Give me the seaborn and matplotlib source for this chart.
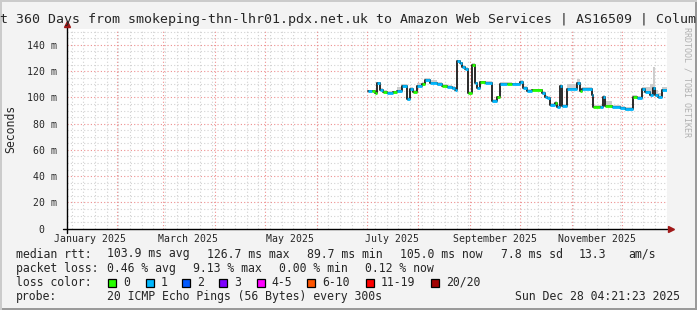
import matplotlib
matplotlib.use("Agg")
import matplotlib.pyplot as plt
import matplotlib.dates as mdates
from matplotlib.patches import Rectangle
import seaborn as sns
import pandas as pd
import numpy as np

# ---------------- data ----------------
change_dates = ["2025-07-02", "2025-07-04", "2025-07-06", "2025-07-07", "2025-07-09",
                "2025-07-11", "2025-07-13", "2025-07-17", "2025-07-19", "2025-07-22",
                "2025-07-25", "2025-07-27", "2025-07-29", "2025-07-31", "2025-08-03",
                "2025-08-05", "2025-08-08", "2025-08-12", "2025-08-15", "2025-08-18",
                "2025-08-21", "2025-08-23", "2025-08-24", "2025-08-26", "2025-08-27",
                "2025-08-29", "2025-08-31", "2025-09-02", "2025-09-04", "2025-09-05",
                "2025-09-07", "2025-09-10", "2025-09-14", "2025-09-17", "2025-09-19",
                "2025-09-23", "2025-09-26", "2025-10-01", "2025-10-03", "2025-10-05",
                "2025-10-08", "2025-10-14", "2025-10-16", "2025-10-17", "2025-10-19",
                "2025-10-22", "2025-10-23", "2025-10-25", "2025-10-26", "2025-10-29",
                "2025-11-04", "2025-11-06", "2025-11-07", "2025-11-13", "2025-11-14",
                "2025-11-18", "2025-11-20", "2025-11-21", "2025-11-25", "2025-11-30",
                "2025-12-03", "2025-12-08", "2025-12-10", "2025-12-13", "2025-12-15",
                "2025-12-18", "2025-12-20", "2025-12-21", "2025-12-23", "2025-12-25"]
median_ms = [104.5, 105.0, 103.5, 111.0, 105.5,
             104.0, 103.5, 103.8, 104.5, 108.5,
             98.5, 106.5, 104.0, 109.0, 110.0,
             113.0, 111.0, 110.0, 109.0, 108.0,
             107.0, 105.5, 127.5, 126.0, 123.5,
             121.5, 103.3, 125.0, 111.0, 107.0,
             111.5, 111.0, 97.0, 100.0, 110.0,
             110.5, 110.0, 112.0, 107.5, 105.0,
             105.5, 103.0, 100.5, 99.5, 94.0,
             96.0, 93.0, 108.5, 93.5, 106.5,
             111.0, 105.0, 106.5, 102.0, 93.0,
             92.5, 100.5, 93.5, 93.0, 92.0,
             91.0, 100.5, 99.5, 106.5, 104.0,
             102.0, 107.0, 101.5, 100.0, 105.5]
loss_class = [1, 0, 0, 1, 1,
              0, 1, 0, 1, 1,
              1, 1, 0, 1, 0,
              1, 1, 1, 0, 1,
              1, 1, 1, 1, 1,
              1, 0, 0, 1, 1,
              0, 1, 1, 0, 1,
              0, 1, 1, 1, 1,
              0, 1, 1, 1, 1,
              0, 1, 1, 1, 1,
              1, 0, 1, 1, 0,
              1, 1, 0, 1, 1,
              1, 0, 1, 1, 1,
              1, 1, 1, 1, 1]
smoke_top_ms = [106.0, 106.0, 105.0, 112.0, 107.0,
                105.5, 105.0, 105.0, 108.0, 110.0,
                100.0, 108.0, 105.5, 111.0, 111.5,
                115.0, 113.0, 111.5, 110.5, 109.5,
                108.5, 107.0, 128.5, 127.0, 125.0,
                123.0, 104.5, 126.0, 112.0, 108.0,
                112.5, 112.5, 98.5, 101.0, 111.5,
                111.5, 111.0, 113.5, 109.0, 106.5,
                106.5, 105.0, 102.0, 101.0, 95.5,
                97.0, 95.0, 110.0, 95.0, 110.0,
                114.0, 107.0, 108.0, 104.0, 94.5,
                94.0, 102.0, 97.0, 94.5, 93.5,
                92.5, 102.0, 101.0, 108.0, 108.0,
                110.0, 123.0, 106.0, 103.0, 108.0]

loss_labels = ["0", "1", "2", "3", "4-5", "6-10", "11-19", "20/20"]
loss_colors = ["#26ff00", "#00b8ff", "#0059ff", "#7e00ff",
               "#ff00ff", "#ff5500", "#ff0000", "#a10000"]

y_ticks = [0, 20, 40, 60, 80, 100, 120, 140]
y_tick_labels = ["0  ", "20 m", "40 m", "60 m", "80 m", "100 m", "120 m", "140 m"]
x_label_dates = ["2025-01-16", "2025-03-16", "2025-05-16", "2025-07-16",
                 "2025-09-16", "2025-11-16"]
x_label_text = ["January 2025", "March 2025", "May 2025", "July 2025",
                "September 2025", "November 2025"]

title_text = "t 360 Days from smokeping-thn-lhr01.pdx.net.uk to Amazon Web Services | AS16509 | Colum"
rtt_row = ["median rtt:", "103.9 ms avg", "126.7 ms max", "89.7 ms min",
           "105.0 ms now", "7.8 ms sd", "13.3", "am/s"]
loss_row = ["packet loss:", "0.46 % avg", "9.13 % max", "0.00 % min", "0.12 % now"]
probe_text = "20 ICMP Echo Pings (56 Bytes) every 300s"
stamp_text = "Sun Dec 28 04:21:23 2025"

# ---------------- figure ----------------
sns.set_style("white")
plt.rcParams['font.family'] = ['DejaVu Sans Mono', 'DejaVu Sans']

W, H = 697, 310
fig = plt.figure(figsize=(W / 100, H / 100), dpi=100, facecolor="#f3f3f3")
L, R, T, B = 67, 667, 28.7, 228.7
ax = fig.add_axes([L / W, 1 - B / H, (R - L) / W, (B - T) / H], facecolor="white")

start = pd.Timestamp("2025-01-02 04:21:23")
end = pd.Timestamp("2025-12-28 04:21:23")

df = pd.DataFrame({"date": pd.to_datetime(change_dates), "rtt": median_ms,
                   "loss": loss_class, "smoke": smoke_top_ms})
last = pd.DataFrame({"date": [end], "rtt": [median_ms[-1]], "loss": [loss_class[-1]],
                     "smoke": [smoke_top_ms[-1]]})
df_step = pd.concat([df, last], ignore_index=True)

# grid
grid_minor = dict(color="#d2d2d2", lw=0.8, ls=(0, (1, 2)), zorder=0)
grid_major = dict(color="#ee8f8f", lw=0.8, ls=(0, (1, 2)), zorder=0.5)

sns.lineplot(data=df_step, x="date", y="rtt", drawstyle="steps-post",
             color="#1a1a1a", lw=1.3, ax=ax, legend=False, zorder=3,
             estimator=None)

xnum = mdates.date2num(df_step["date"])
ax.fill_between(xnum, df_step["rtt"] - 1.0, df_step["smoke"], step="post",
                color="#cdcdcd", lw=0, zorder=2)

x0 = mdates.date2num(df["date"])
x1 = mdates.date2num(df_step["date"].iloc[1:])
ax.hlines(df["rtt"], x0, x1, colors=[loss_colors[c] for c in loss_class],
          lw=2.0, zorder=4)

for d in pd.date_range("2025-01-05", "2025-12-28", freq="7D"):
    ax.axvline(mdates.date2num(d), **grid_minor)
for d in pd.date_range("2025-02-01", "2025-12-01", freq="MS"):
    ax.axvline(mdates.date2num(d), **grid_major)
for v in range(5, 155, 5):
    if v % 20 == 0:
        ax.axhline(v, **grid_major)
    else:
        ax.axhline(v, **grid_minor)

ax.set_xlim(mdates.date2num(start), mdates.date2num(end))
ax.set_ylim(0, 152.3)

ax.set_yticks(y_ticks, y_tick_labels)
ax.set_yticks(list(range(5, 155, 5)), minor=True)
ax.set_xticks(mdates.date2num(pd.to_datetime(x_label_dates)), x_label_text)
ax.tick_params(axis="y", which="major", length=3, width=0.8, color="#cc2222",
               pad=4, labelsize=7.1, direction="out")
ax.tick_params(axis="y", which="minor", length=2, width=0.6, color="#888888",
               direction="out")
ax.tick_params(axis="x", which="major", length=0, pad=4, labelsize=7.1)
ax.set_xlabel("")
ax.set_ylabel("Seconds", fontsize=8.3)
ax.yaxis.set_label_coords(-(67 - 17.5) / 600, 0.5)
for s in ax.spines.values():
    s.set_visible(False)

# axis lines with arrows
ax.plot([-4 / 600, 1.0], [0, 0], color="black", lw=1.0, transform=ax.transAxes,
        clip_on=False, zorder=6)
ax.plot([0, 0], [-4 / 200, 1.02], color="black", lw=1.0, transform=ax.transAxes,
        clip_on=False, zorder=6)
ax.plot([1.0 + 3.5 / 600], [0], marker=">", ms=5, color="#a01818",
        transform=ax.transAxes, clip_on=False, zorder=7, mec="#a01818")
ax.plot([0], [1.0 + 4.5 / 200], marker="^", ms=5, color="#a01818",
        transform=ax.transAxes, clip_on=False, zorder=7, mec="#a01818")

# ---------------- texts ----------------
def ftext(x, y, s, **kw):
    kw.setdefault("va", "center")
    kw.setdefault("fontsize", 8.3)
    fig.text(x / W, 1 - y / H, s, **kw)

ftext(0, 19, title_text, fontsize=9.57, ha="left")
ftext(687, 27, "RRDTOOL / TOBI OETIKER", fontsize=6, color="#b0b0b0",
      rotation=270, va="top", ha="center")

rtt_x = [16, 107, 207, 307, 400, 501, 579, 628]
for s, x in zip(rtt_row, rtt_x):
    ftext(x, 254, s)
loss_x = [16, 107, 193, 279, 365]
for s, x in zip(loss_row, loss_x):
    ftext(x, 268.3, s)

ftext(16, 282.3, "loss color:")
box_x = [108.3, 145.7, 182.3, 219.3, 256.7, 307.3, 365.7, 431]
for lab, col, bx in zip(loss_labels, loss_colors, box_x):
    fig.add_artist(Rectangle((bx / W, 1 - 286.5 / H), 8 / W, 8 / H,
                             transform=fig.transFigure, facecolor=col,
                             edgecolor="black", lw=0.9))
    ftext(bx + 15, 282.3, lab)

ftext(16, 296.3, "probe:")
ftext(107, 296.3, probe_text)
ftext(680, 296.3, stamp_text, ha="right")

# frame
fig.add_artist(Rectangle((0, 0), 1, 2 / H, transform=fig.transFigure, color="#9a9a9a", lw=0))
fig.add_artist(Rectangle((1 - 2 / W, 0), 2 / W, 1, transform=fig.transFigure, color="#9a9a9a", lw=0))
fig.add_artist(Rectangle((0, 1 - 2 / H), 1, 2 / H, transform=fig.transFigure, color="#cbcbcb", lw=0))
fig.add_artist(Rectangle((0, 0), 2 / W, 1, transform=fig.transFigure, color="#cbcbcb", lw=0))

fig.savefig("out.png", dpi=100, facecolor=fig.get_facecolor())
